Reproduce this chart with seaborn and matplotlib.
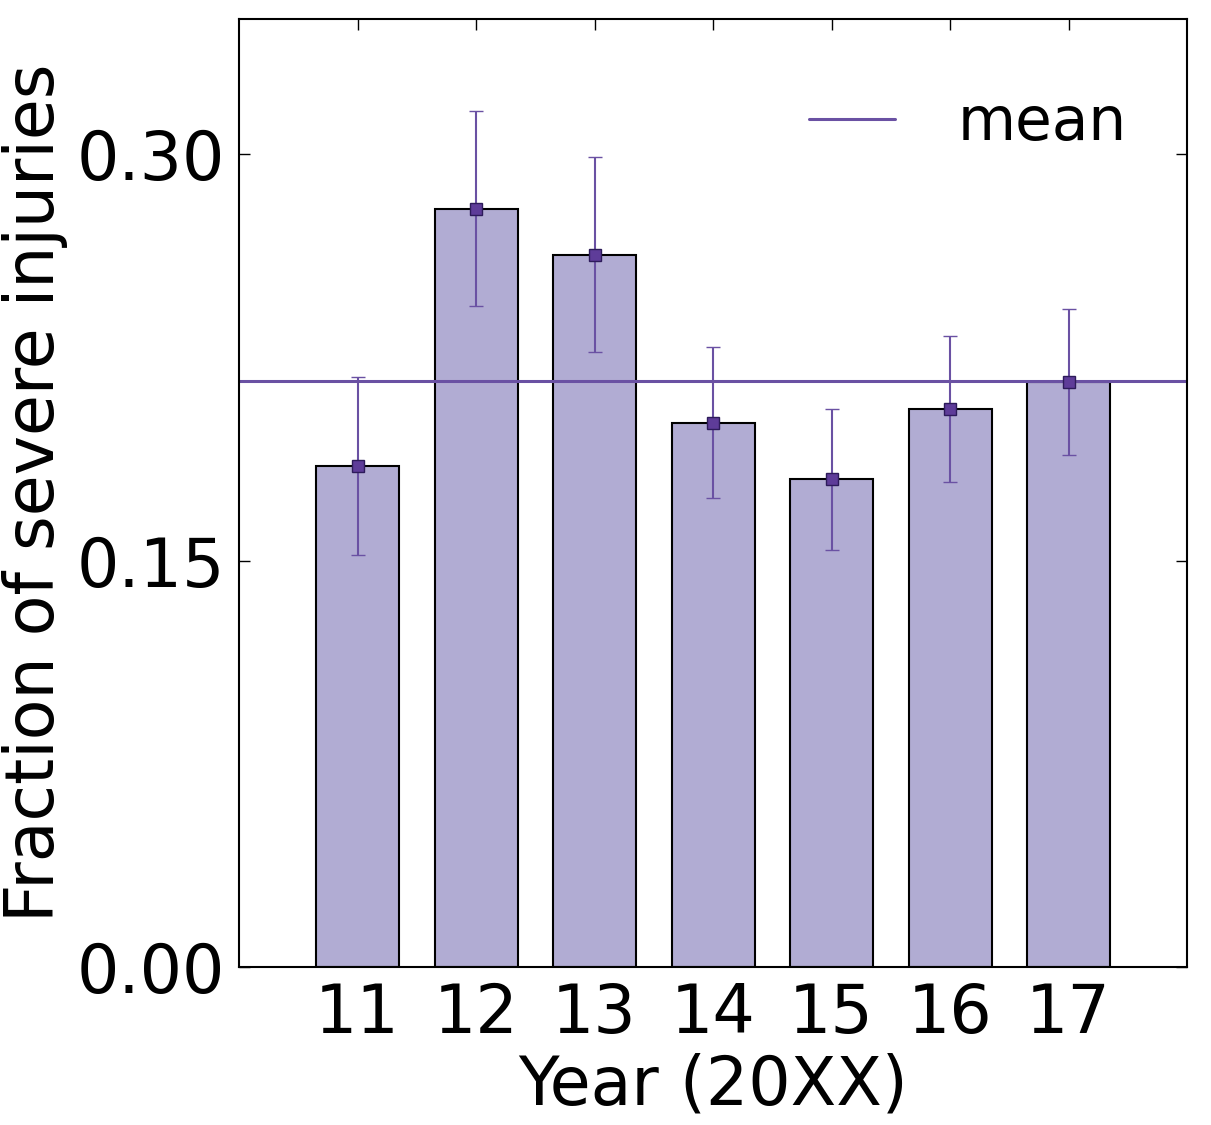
import numpy as np
import pandas as pd
import seaborn as sns
import matplotlib.pyplot as plt

years = [11, 12, 13, 14, 15, 16, 17]
fraction = [0.185, 0.280, 0.263, 0.201, 0.180, 0.206, 0.216]
err = [0.033, 0.036, 0.036, 0.028, 0.026, 0.027, 0.027]
mean_val = 0.2163

df = pd.DataFrame({"year": years, "fraction": fraction})

sns.set_style("ticks")
plt.rcParams['font.family'] = ['DejaVu Sans']
plt.rcParams.update({"text.color": "black", "axes.labelcolor": "black",
                     "xtick.color": "black", "ytick.color": "black",
                     "axes.edgecolor": "black"})

fig = plt.figure(figsize=(12.11, 11.25), dpi=100)
ax = fig.add_axes([0.1974, 0.1404, 0.7828, 0.8427])

sns.barplot(data=df, x="year", y="fraction", native_scale=True, width=0.7,
            color="#b1acd3", saturation=1, edgecolor="black", linewidth=1.5,
            errorbar=None, ax=ax)
ax.errorbar(df["year"], df["fraction"], yerr=err, fmt="s", color="#5e3c99",
            ecolor="#6a51a3", elinewidth=1.5, capsize=5, markersize=9,
            markeredgecolor="#2d1b5a", markeredgewidth=1)
ax.axhline(mean_val, color="#6a51a3", lw=2.2, label="mean")

ax.set_xlim(10, 18)
ax.set_ylim(0, 0.35)
ax.set_xticks(years)
ax.set_yticks([0.0, 0.15, 0.30])
ax.set_yticklabels(["0.00", "0.15", "0.30"])
ax.tick_params(direction="in", top=True, right=True, length=8, width=1,
               labelsize=48, pad=10)
for s in ax.spines.values():
    s.set_linewidth(1.5)

ax.set_xlabel("Year (20XX)", fontsize=48, labelpad=4)
ax.set_ylabel("Fraction of severe injuries", fontsize=48, labelpad=6)
ax.legend(loc="upper right", bbox_to_anchor=(1.0, 0.984), frameon=False,
          fontsize=43, handlelength=1.45, handletextpad=1.05, borderaxespad=0.6)

fig.savefig("out.png", dpi=100)
